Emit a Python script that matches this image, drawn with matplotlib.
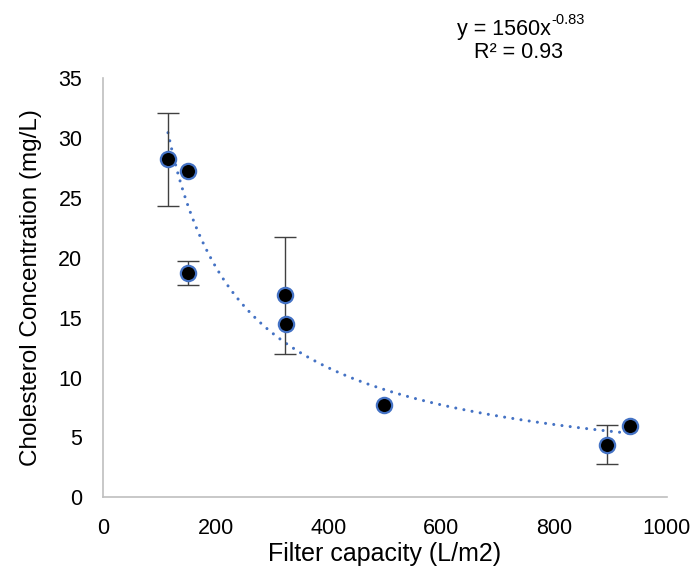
import matplotlib

matplotlib.use("Agg")
import matplotlib.pyplot as plt
import numpy as np

plt.rcParams["font.family"] = ["Liberation Sans", "DejaVu Sans"]

# filter capacity (L/m2) vs cholesterol concentration (mg/L)
capacity = [114.8, 149.8, 150.9, 323.0, 324.8, 498.8, 894.6, 935.4]
cholesterol = [28.2, 27.25, 18.7, 16.85, 14.45, 7.72, 4.39, 5.94]
err = [3.85, 0.0, 1.0, 4.9, 0.0, 0.0, 1.62, 0.0]

# power trend from the fitted equation
coef_a = 1560
coef_b = -0.83
r_squared = 0.93

fig = plt.figure(figsize=(6.96, 5.78), dpi=100)
ax = fig.add_axes([103.3 / 696, 1 - 497.3 / 578, (666.7 - 103.3) / 696, (497.3 - 78) / 578])

blue = "#4472C4"
grey = "#BFBFBF"

xs = np.linspace(min(capacity), max(capacity), 300)
ax.plot(xs, coef_a * xs ** coef_b, color=blue, linewidth=2.2,
        linestyle=(0, (0.01, 2.7)), dash_capstyle="round", zorder=2)

# only points that carry a standard deviation get a bar
has_err = [i for i, e in enumerate(err) if e > 0]
ax.errorbar([capacity[i] for i in has_err], [cholesterol[i] for i in has_err],
            yerr=[err[i] for i in has_err], fmt="none", ecolor="#404040",
            elinewidth=1.0, capsize=8, capthick=1.0, zorder=3)
ax.plot(capacity, cholesterol, "o", markersize=11, markerfacecolor="black",
        markeredgecolor=blue, markeredgewidth=1.6, linestyle="none", zorder=4)

ax.set_xlim(0, 1000)
ax.set_ylim(0, 35)
ax.set_xticks(np.arange(0, 1001, 200))
ax.set_yticks(np.arange(0, 36, 5))
ax.tick_params(length=0, labelsize=15.5, colors="black")
ax.tick_params(axis="x", pad=15)
ax.tick_params(axis="y", pad=15)

for side in ["top", "right"]:
    ax.spines[side].set_visible(False)
for side in ["left", "bottom"]:
    ax.spines[side].set_color(grey)
    ax.spines[side].set_linewidth(1.2)

ax.set_xlabel("Filter capacity (L/m2)", fontsize=18, labelpad=2)
ax.set_ylabel("Cholesterol Concentration (mg/L)", fontsize=17.5, labelpad=12)

# trendline equation with a real superscript exponent
eq = fig.text(457 / 696, 1 - 30 / 578, f"y = {coef_a}x", ha="left", va="center",
              fontsize=15.5)
ax.annotate(f"{coef_b}", xy=(1.0, 1.0), xycoords=eq, xytext=(0, 5),
            textcoords="offset points", ha="left", va="top", fontsize=10.5)
fig.text(518 / 696, 1 - 53 / 578, f"R² = {r_squared}", ha="center", va="center",
         fontsize=15.5)

fig.savefig("out.png", dpi=100, facecolor="white")
